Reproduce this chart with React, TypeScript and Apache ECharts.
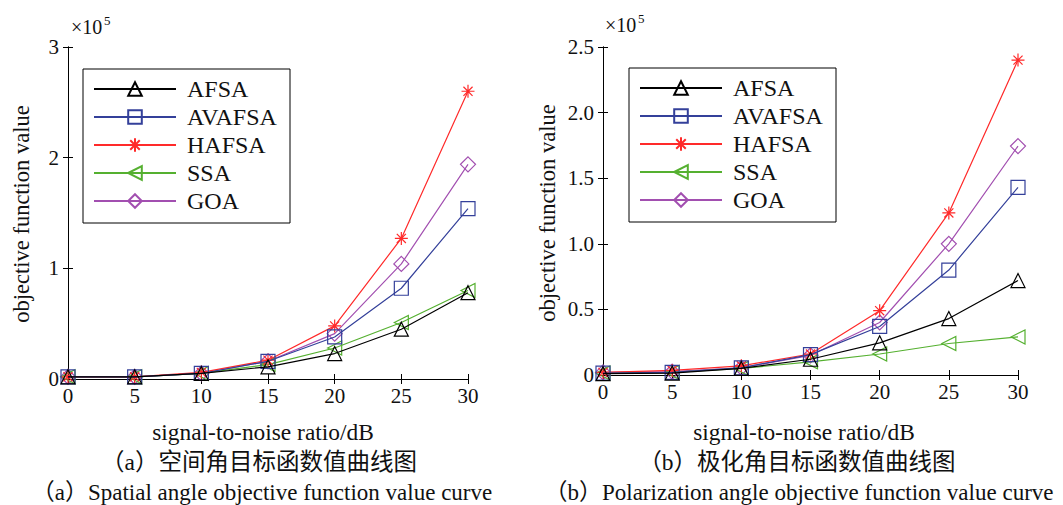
import React, { useEffect, useRef } from "react";
import * as echarts from "echarts";

// x: signal-to-noise ratio (dB)
const snr = [0, 5, 10, 15, 20, 25, 30];
const names = ["AFSA", "AVAFSA", "HAFSA", "SSA", "GOA"];

// (a) spatial angle objective function value, ×10^5
const spAFSA = [0.02, 0.02, 0.05, 0.11, 0.23, 0.45, 0.78];
const spAVAFSA = [0.02, 0.02, 0.05, 0.16, 0.38, 0.82, 1.54];
const spHAFSA = [0.02, 0.02, 0.06, 0.17, 0.48, 1.27, 2.6];
const spSSA = [0.02, 0.02, 0.05, 0.13, 0.28, 0.51, 0.8];
const spGOA = [0.02, 0.02, 0.05, 0.16, 0.41, 1.04, 1.94];

// (b) polarization angle objective function value, ×10^5
const poAFSA = [0.01, 0.015, 0.05, 0.12, 0.245, 0.43, 0.72];
const poAVAFSA = [0.015, 0.02, 0.055, 0.155, 0.37, 0.8, 1.43];
const poHAFSA = [0.02, 0.035, 0.07, 0.16, 0.49, 1.235, 2.4];
const poSSA = [0.015, 0.02, 0.05, 0.1, 0.16, 0.24, 0.29];
const poGOA = [0.02, 0.025, 0.055, 0.15, 0.4, 1.0, 1.745];

const leftTicks = [0, 1, 2, 3];
const rightTicks = [0, 0.5, 1.0, 1.5, 2.0, 2.5];

const colors = ["#000000", "#34409a", "#ff2a2a", "#55b030", "#a24fb0"];
const ASTER = "path://M5 0L5 10M0 5L10 5M1.5 1.5L8.5 8.5M1.5 8.5L8.5 1.5";
const LEFTTRI = "path://M0 5L10 0L10 10Z";
const symbols = ["triangle", "rect", ASTER, LEFTTRI, "diamond"];
const symSizes = [14, 14, 13, 14, 15];

const SERIF = "Liberation Serif, Times New Roman, serif";
const CJK = "Liberation Serif, Noto Sans CJK SC, serif";

function makeSeries(datasets: number[][], axisIdx: number) {
  return datasets.map((vals, i) => ({
    name: names[i],
    type: "line",
    xAxisIndex: axisIdx,
    yAxisIndex: axisIdx,
    data: vals.map((v, k) => [snr[k], v]),
    symbol: symbols[i],
    symbolSize: symSizes[i],
    showAllSymbol: true,
    lineStyle: { color: colors[i], width: 1.2 },
    itemStyle: { color: "rgba(255,255,255,0)", borderColor: colors[i], borderWidth: 1.2 },
    z: 2 + (5 - i),
  }));
}

function axisPair(grid: number, isX: boolean, min: number, max: number, interval: number, fmt?: (v: number) => string) {
  const common = {
    gridIndex: grid,
    type: "value",
    min,
    max,
    interval,
    splitLine: { show: false },
    axisLine: { show: true, lineStyle: { color: "#000", width: 1 } },
    axisTick: { show: true, inside: true, length: 5, lineStyle: { color: "#000" } },
  };
  return [
    {
      ...common,
      position: isX ? "bottom" : "left",
      axisLabel: {
        show: true,
        color: "#111",
        fontFamily: SERIF,
        fontSize: 21,
        margin: isX ? 6 : 9,
        formatter: fmt,
      },
    },
    {
      ...common,
      position: isX ? "top" : "right",
      axisLabel: { show: false },
    },
  ];
}

function text(x: number, y: number, t: string, size: number, opts: any = {}) {
  return {
    type: "text",
    x,
    y,
    rotation: opts.rotation || 0,
    z: 10,
    style: {
      text: t,
      fill: "#111",
      fontSize: size,
      fontFamily: opts.font || SERIF,
      align: opts.align || "center",
      verticalAlign: "middle",
      textAlign: opts.align || "center",
      textVerticalAlign: "middle",
    },
  };
}

export default function App() {
  const ref = useRef<HTMLDivElement>(null);
  useEffect(() => {
    if (!ref.current) return;
    const chart = echarts.init(ref.current, null, { renderer: "svg" });
    const legendCommon = {
      orient: "vertical",
      itemWidth: 82,
      itemHeight: 17,
      itemGap: 4,
      padding: 0,
      selectedMode: false,
      textStyle: { fontFamily: SERIF, fontSize: 24, color: "#111", padding: [0, 0, 0, 6] },
      data: names,
    };
    chart.setOption({
      animation: false,
      backgroundColor: "#fff",
      grid: [
        { left: 68, top: 47, width: 400, height: 332, show: false },
        { left: 603, top: 47, width: 415, height: 328, show: false },
      ],
      xAxis: [
        ...axisPair(0, true, 0, 30, 5),
        ...axisPair(1, true, 0, 30, 5),
      ],
      yAxis: [
        ...axisPair(0, false, leftTicks[0], leftTicks[leftTicks.length - 1], leftTicks[1] - leftTicks[0], (v: number) => String(v)),
        ...axisPair(1, false, rightTicks[0], rightTicks[rightTicks.length - 1], rightTicks[1] - rightTicks[0], (v: number) => (v === 0 ? "0" : v.toFixed(1))),
      ],
      legend: [
        { ...legendCommon, left: 93, top: 77 },
        { ...legendCommon, left: 639, top: 76 },
      ],
      graphic: [
        { type: "rect", z: 3, shape: { x: 83, y: 69, width: 207, height: 154 }, style: { fill: "#fff", stroke: "#000", lineWidth: 1 } },
        { type: "rect", z: 3, shape: { x: 629, y: 68, width: 207, height: 154 }, style: { fill: "#fff", stroke: "#000", lineWidth: 1 } },
        text(71, 27, "×10", 20, { align: "left" }),
        text(104, 20, "5", 13, { align: "left" }),
        text(605, 25, "×10", 20, { align: "left" }),
        text(638, 18, "5", 13, { align: "left" }),
        text(21, 214, "objective function value", 22.5, { rotation: Math.PI / 2 }),
        text(547, 213, "objective function value", 22.5, { rotation: Math.PI / 2 }),
        text(263, 432, "signal-to-noise ratio/dB", 23.4),
        text(804, 432, "signal-to-noise ratio/dB", 23.4),
        text(259, 462, "（a）空间角目标函数值曲线图", 23.5, { font: CJK }),
        text(797, 462, "（b）极化角目标函数值曲线图", 23.5, { font: CJK }),
        text(262, 492, "（a）Spatial angle objective function value curve", 23, { font: CJK }),
        text(799, 492, "（b）Polarization angle objective function value curve", 23, { font: CJK }),
      ],
      series: [
        ...makeSeries([spAFSA, spAVAFSA, spHAFSA, spSSA, spGOA], 0),
        ...makeSeries([poAFSA, poAVAFSA, poHAFSA, poSSA, poGOA], 2),
      ],
    });
    return () => chart.dispose();
  }, []);
  return (
    <div
      ref={ref}
      style={{ position: "fixed", left: 0, top: 0, width: 1063, height: 505, background: "#fff" }}
    />
  );
}
